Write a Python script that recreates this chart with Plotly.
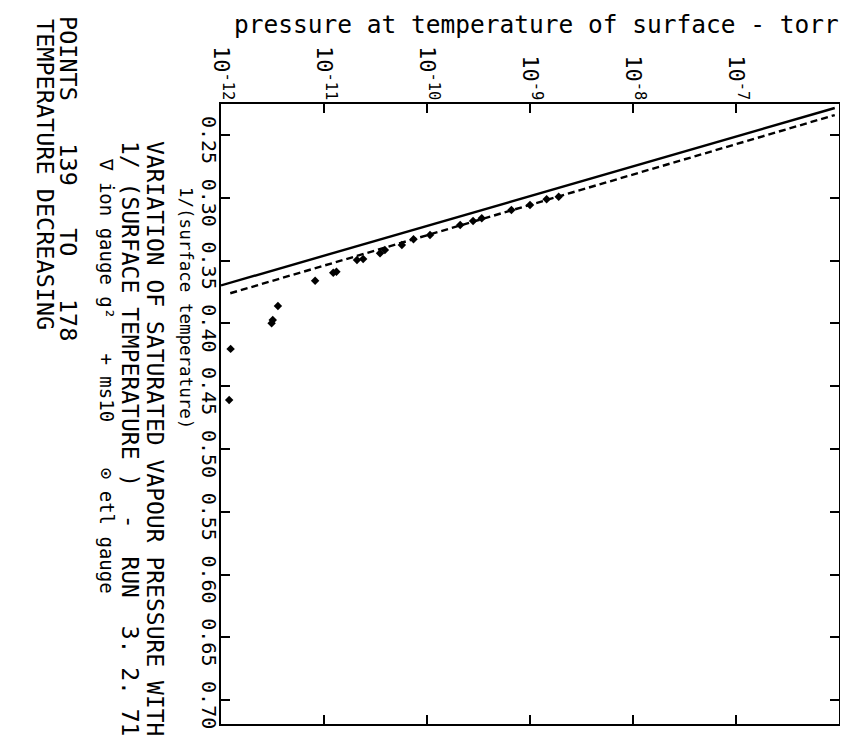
import plotly.graph_objects as go

# ---- data ----
solid_pressure = [1.0e-12, 9.1e-7]
solid_inv_temp = [0.3698, 0.2285]

dashed_pressure = [1.23e-12, 9.1e-7]
dashed_inv_temp = [0.376, 0.2341]

point_pressure = [1.2e-12, 1.24e-12, 3.1e-12, 3.18e-12, 3.57e-12, 8.2e-12,
                  1.23e-11, 1.32e-11, 2.09e-11, 2.4e-11, 3.5e-11, 3.9e-11,
                  5.7e-11, 7.4e-11, 1.07e-10, 2.1e-10, 2.8e-10, 3.4e-10,
                  6.6e-10, 1.0e-9, 1.45e-9, 1.9e-9]
point_inv_temp = [0.4610, 0.4203, 0.3999, 0.3973, 0.3861, 0.3660,
                  0.3596, 0.3588, 0.3495, 0.3487, 0.3442, 0.3415,
                  0.3376, 0.3330, 0.3296, 0.3216, 0.3184, 0.3163,
                  0.3097, 0.3057, 0.3012, 0.2991]

pressure_ticks = [1e-12, 1e-11, 1e-10, 1e-9, 1e-8, 1e-7]
pressure_tick_labels = ["10<sup>-12</sup>", "10<sup>-11</sup>", "10<sup>-10</sup>",
                        "10<sup>-9</sup>", "10<sup>-8</sup>", "10<sup>-7</sup>"]
inv_temp_ticks = [0.25, 0.30, 0.35, 0.40, 0.45, 0.50, 0.55, 0.60, 0.65, 0.70]
inv_temp_tick_labels = ["0.25", "0.30", "0.35", "0.40", "0.45",
                        "0.50", "0.55", "0.60", "0.65", "0.70"]

FONT = "DejaVu Sans Mono"

fig = go.Figure()
fig.add_trace(go.Scatter(x=solid_pressure, y=solid_inv_temp, mode="lines",
                         line=dict(color="black", width=2.4), showlegend=False))
fig.add_trace(go.Scatter(x=dashed_pressure, y=dashed_inv_temp, mode="lines",
                         line=dict(color="black", width=2.4, dash="7px,4px"),
                         showlegend=False))
fig.add_trace(go.Scatter(x=point_pressure, y=point_inv_temp, mode="markers",
                         marker=dict(symbol="diamond", size=6.5, color="black"),
                         showlegend=False))

# the page body adds an 8px margin, so the figure is drawn 8px smaller
OFF = 8
W, H = 848 - OFF, 739 - OFF
# plot-area edges in reference (page) pixels
L, R, T, B = 221, 839, 104, 724
Lf, Rf, Tf, Bf = L - OFF, R - OFF, T - OFF, B - OFF


def px(x):
    return (x - OFF - Lf) / (Rf - Lf)


def py(y):
    return 1 - (y - OFF - Tf) / (Bf - Tf)


fig.update_layout(
    width=W, height=H,
    margin=dict(l=Lf, r=W - Rf, t=Tf, b=H - Bf, autoexpand=False),
    paper_bgcolor="white", plot_bgcolor="white",
    font=dict(family=FONT, color="black"),
    xaxis=dict(type="log", range=[-12, -6], side="top", automargin=False,
               tickvals=pressure_ticks, ticktext=pressure_tick_labels,
               tickangle=90, tickfont=dict(size=22, family=FONT),
               ticks="inside", ticklen=9, tickwidth=2, tickcolor="black",
               ticklabelstandoff=-6, ticklabeloverflow="allow",
               showline=True, linecolor="black", linewidth=2, mirror="ticks",
               showgrid=False, zeroline=False),
    yaxis=dict(range=[0.719, 0.2253], automargin=False,
               tickvals=inv_temp_ticks, ticktext=inv_temp_tick_labels,
               tickangle=90, tickfont=dict(size=20, family=FONT),
               ticks="inside", ticklen=9, tickwidth=2, tickcolor="black",
               ticklabelshift=-8, ticklabelstandoff=-7, ticklabeloverflow="allow",
               showline=True, linecolor="black", linewidth=2, mirror="ticks",
               showgrid=False, zeroline=False),
)

texts = [
    ("pressure at temperature of surface - torr", 536, 25, 0, 24.5),
    ("1/(surface temperature)", 186, 308, 90, 17.5),
    ("VARIATION OF SATURATED VAPOUR PRESSURE WITH", 155, 438, 90, 23),
    ("1/ (SURFACE TEMPERATURE )  -  RUN  3. 2. 71", 130, 438, 90, 23),
    ("\u2207 ion gauge g\u00b2   + ms10    \u2299 etl gauge", 107, 376, 90, 19),
    ("POINTS   139   TO   178", 68, 178, 90, 23.5),
    ("TEMPERATURE DECREASING", 45, 174, 90, 23.5),
]
for txt, x, y, ang, size in texts:
    fig.add_annotation(text=txt, xref="paper", yref="paper", x=px(x), y=py(y),
                       xanchor="center", yanchor="middle", textangle=ang,
                       showarrow=False, font=dict(size=size, family=FONT, color="black"))

fig.write_html("out.html")
